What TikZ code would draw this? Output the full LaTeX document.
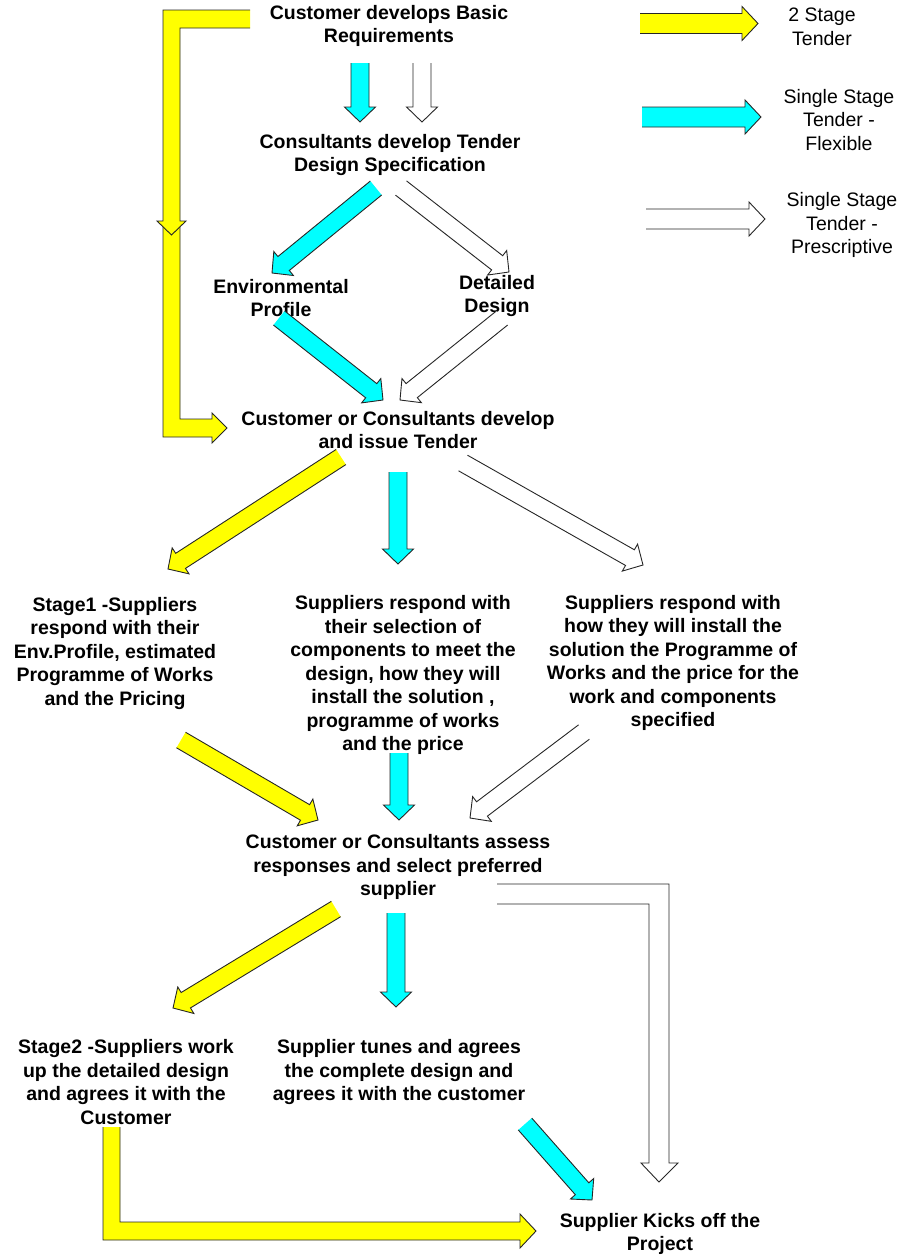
\documentclass[tikz,border=0pt]{standalone}
\usepackage{fontspec}
\setmainfont{Liberation Sans}
\usetikzlibrary{calc}
\definecolor{ayel}{RGB}{255,255,0}
\definecolor{acyan}{RGB}{0,255,255}
\tikzset{
  lbl/.style={font=\bfseries\fontsize{19.5}{23.5}\selectfont, align=center, inner sep=0pt},
  leg/.style={font=\fontsize{19.5}{23.5}\selectfont, align=center, inner sep=0pt},
  arrowline/.style={draw=black!85, line width=0.9pt, line join=miter},
}
\newcommand\arrbh{9pt}
\newcommand\arrbH{15.5pt}
\newcommand\arrbL{15pt}
% block arrow: #1 fill colour, #2 tail coordinate, #3 tip coordinate
\newcommand\barrow[3]{%
  \coordinate (bb) at ($(#3)!\arrbL!(#2)$);
  \fill[#1] ($(#2)!\arrbh!90:(#3)$) -- ($(bb)!\arrbh!90:(#3)$) -- ($(bb)!\arrbH!90:(#3)$) -- (#3)
     -- ($(bb)!\arrbH!-90:(#3)$) -- ($(bb)!\arrbh!-90:(#3)$) -- ($(#2)!\arrbh!-90:(#3)$) -- cycle;
  \draw[arrowline] ($(#2)!\arrbh!90:(#3)$) -- ($(bb)!\arrbh!90:(#3)$) -- ($(bb)!\arrbH!90:(#3)$) -- (#3)
     -- ($(bb)!\arrbH!-90:(#3)$) -- ($(bb)!\arrbh!-90:(#3)$) -- ($(#2)!\arrbh!-90:(#3)$);
}
\begin{document}
\begin{tikzpicture}[x=1pt,y=-1pt]
\useasboundingbox (0,0) rectangle (904,1256);

% ---------- text nodes ----------
\node[lbl] (n1) at (389,26) {Customer develops Basic\\Requirements};
\node[lbl] (n2) at (390,155) {Consultants develop Tender\\Design Specification};
\node[lbl] (env) at (281,298) {Environmental\\Profile};
\node[lbl] (det) at (497,296) {Detailed\\Design};
\node[lbl] (n3) at (398,430) {Customer or Consultants develop\\and issue Tender};
\node[lbl] (s1) at (115,653) {Stage1 -Suppliers\\respond with their\\Env.Profile, estimated\\Programme of Works\\and the Pricing};
\node[lbl] (s2) at (403,675) {Suppliers respond with\\their selection of\\components to meet the\\design, how they will\\install the solution ,\\programme of works\\and the price};
\node[lbl] (s3) at (673,663) {Suppliers respond with\\how they will install the\\solution the Programme of\\Works and the price for the\\work and components\\specified};
\node[lbl] (n4) at (398,867) {Customer or Consultants assess\\responses and select preferred\\supplier};
\node[lbl] (s4) at (126,1082) {Stage2 -Suppliers work\\up the detailed design\\and agrees it with the\\Customer};
\node[lbl] (s5) at (399,1072) {Supplier tunes and agrees\\the complete design and\\agrees it with the customer};
\node[lbl] (n5) at (660,1234) {Supplier Kicks off the\\Project};

% legend text
\node[leg] (l1) at (822,27) {2 Stage\\Tender};
\node[leg] (l2) at (839,120) {Single Stage\\Tender -\\Flexible};
\node[leg] (l3) at (842,225) {Single Stage\\Tender -\\Prescriptive};

% ---------- arrow end points ----------
\coordinate (a1t) at (360,63);  \coordinate (a1h) at (360,122);
\coordinate (a2t) at (422,63);  \coordinate (a2h) at (422,122);
\coordinate (a3t) at (376,188); \coordinate (a3h) at (272,273);
\coordinate (a4t) at (401,188); \coordinate (a4h) at (509,272);
\coordinate (a5t) at (279,318); \coordinate (a5h) at (383,400);
\coordinate (a6t) at (502,318); \coordinate (a6h) at (400,400);
\coordinate (a7t) at (341,457); \coordinate (a7h) at (168,569);
\coordinate (a8t) at (398,472); \coordinate (a8h) at (398,564);
\coordinate (a9t) at (463,463); \coordinate (a9h) at (643,565);
\coordinate (a10t) at (181,740); \coordinate (a10h) at (318,820);
\coordinate (a11t) at (399,753); \coordinate (a11h) at (399,820);
\coordinate (a12t) at (584,732); \coordinate (a12h) at (470,818);
\coordinate (a13t) at (336,909); \coordinate (a13h) at (173,1008);
\coordinate (a14t) at (396,913); \coordinate (a14h) at (396,1007);
\coordinate (a15t) at (525,1124); \coordinate (a15h) at (592,1200);

\barrow{acyan}{a1t}{a1h}
\barrow{white}{a2t}{a2h}
\barrow{acyan}{a3t}{a3h}
\barrow{white}{a4t}{a4h}
\barrow{acyan}{a5t}{a5h}
\barrow{white}{a6t}{a6h}
\barrow{ayel}{a7t}{a7h}
\barrow{acyan}{a8t}{a8h}
\barrow{white}{a9t}{a9h}
\barrow{ayel}{a10t}{a10h}
\barrow{acyan}{a11t}{a11h}
\barrow{white}{a12t}{a12h}
\barrow{ayel}{a13t}{a13h}
\barrow{acyan}{a14t}{a14h}
\barrow{acyan}{a15t}{a15h}

% legend arrows
\begin{scope}
\renewcommand\arrbh{10pt}
\renewcommand\arrbH{17pt}
\renewcommand\arrbL{16pt}
\coordinate (g1t) at (640,23.5); \coordinate (g1h) at (758,23.5);
\coordinate (g2t) at (642,117);  \coordinate (g2h) at (761,117);
\coordinate (g3t) at (646,219);  \coordinate (g3h) at (765,219);
\barrow{ayel}{g1t}{g1h}
\barrow{acyan}{g2t}{g2h}
\barrow{white}{g3t}{g3h}
\end{scope}

% ---------- yellow L arrow (top left), lower part ----------
\fill[ayel] (163,227) -- (163,437) -- (212,437) -- (212,443) -- (227,428) -- (212,413) -- (212,419) -- (180,419) -- (180,227) -- cycle;
\draw[arrowline] (163,227) -- (163,437) -- (212,437) -- (212,443) -- (227,428) -- (212,413) -- (212,419) -- (180,419) -- (180,227);
% upper part
\fill[ayel] (250,10) -- (163,10) -- (163,221) -- (157,221) -- (171.5,235) -- (186,221) -- (180,221) -- (180,28) -- (250,28) -- cycle;
\draw[arrowline] (250,10) -- (163,10) -- (163,221) -- (157,221) -- (171.5,235) -- (186,221) -- (180,221) -- (180,28) -- (250,28);

% ---------- yellow L arrow (bottom) ----------
\fill[ayel] (103,1127) -- (103,1240) -- (520,1240) -- (520,1248) -- (536,1231) -- (520,1214) -- (520,1222) -- (120,1222) -- (120,1127) -- cycle;
\draw[arrowline] (103,1127) -- (103,1240) -- (520,1240) -- (520,1248) -- (536,1231) -- (520,1214) -- (520,1222) -- (120,1222) -- (120,1127);

% ---------- white L arrow (right) ----------
\draw[arrowline] (497,884) -- (669,884) -- (669,1163) -- (678,1163) -- (659,1182) -- (641,1163) -- (649,1163) -- (649,904) -- (497,904);

\end{tikzpicture}
\end{document}
